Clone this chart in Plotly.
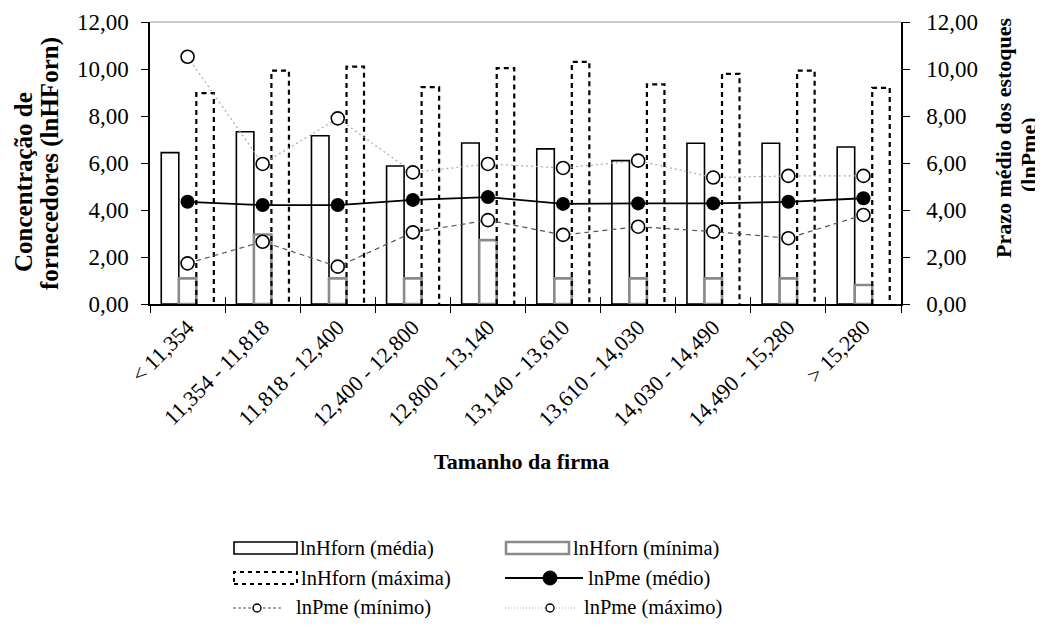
import plotly.graph_objects as go

# ---------------- data ----------------
categories = ["< 11,354", "11,354 - 11,818", "11,818 - 12,400", "12,400 - 12,800",
              "12,800 - 13,140", "13,140 - 13,610", "13,610 - 14,030",
              "14,030 - 14,490", "14,490 - 15,280", "> 15,280"]
lnhforn_media = [6.44, 7.33, 7.16, 5.87, 6.85, 6.60, 6.10, 6.84, 6.84, 6.68]
lnhforn_minima = [1.09, 2.96, 1.09, 1.09, 2.72, 1.09, 1.09, 1.09, 1.09, 0.81]
lnhforn_maxima = [8.97, 9.93, 10.10, 9.23, 10.04, 10.30, 9.35, 9.79, 9.93, 9.20]
lnpme_medio = [4.35, 4.21, 4.21, 4.43, 4.55, 4.26, 4.28, 4.28, 4.35, 4.50]
lnpme_minimo = [1.73, 2.65, 1.59, 3.05, 3.57, 2.94, 3.29, 3.08, 2.80, 3.79]
lnpme_maximo = [10.52, 5.96, 7.90, 5.60, 5.96, 5.79, 6.10, 5.38, 5.45, 5.45]
y_ticks = [0, 2, 4, 6, 8, 10, 12]

# ---------------- style ----------------
FONT = '"Liberation Serif", "Times New Roman", Tinos, serif'
OFF = 8                      # default page (body) margin around the figure
PAGE_W, PAGE_H = 1043, 635
PLOT_L, PLOT_R, PLOT_T, PLOT_B = 150, 901, 22, 304   # plot area in page pixels
W, H = PAGE_W - OFF, PAGE_H - 2 * OFF
L, T = PLOT_L - OFF, PLOT_T - OFF
R = W - (PLOT_R - OFF)
B = H - (PLOT_B - OFF)
BARGAP = 0.3
n = len(categories)
bar_w = (1 - BARGAP) / 3

fig = go.Figure()

fig.add_trace(go.Bar(name="lnHforn (média)", x=categories, y=lnhforn_media,
                     marker=dict(color="white", line=dict(color="black", width=1.6))))
fig.add_trace(go.Bar(name="lnHforn (mínima)", x=categories, y=lnhforn_minima,
                     marker=dict(color="white", line=dict(color="#8a8a8a", width=2.6))))
fig.add_trace(go.Bar(name="lnHforn (máxima)", x=categories, y=lnhforn_maxima,
                     marker=dict(color="rgba(255,255,255,0)", line=dict(width=0))))

# dashed outline of the "máxima" bars (on a linear overlay axis matching category positions)
ox, oy = [], []
for i, v in enumerate(lnhforn_maxima):
    x0 = i + bar_w / 2
    x1 = i + bar_w * 1.5
    ox += [x0, x0, x1, x1, None]
    oy += [0, v, v, 0, None]
fig.add_trace(go.Scatter(x=ox, y=oy, xaxis="x2", yaxis="y", mode="lines",
                         line=dict(color="black", width=2.2, dash="5px,4px"),
                         hoverinfo="skip", showlegend=False))

idx = list(range(n))
fig.add_trace(go.Scatter(name="lnPme (mínimo)", x=idx, y=lnpme_minimo, xaxis="x2", yaxis="y2",
                         mode="lines+markers",
                         line=dict(color="#555555", width=1.2, dash="5px,4px"),
                         marker=dict(size=13, color="white", line=dict(color="black", width=1.6))))
fig.add_trace(go.Scatter(name="lnPme (máximo)", x=idx, y=lnpme_maximo, xaxis="x2", yaxis="y2",
                         mode="lines+markers",
                         line=dict(color="#aaaaaa", width=1.2, dash="2px,3px"),
                         marker=dict(size=13, color="white", line=dict(color="black", width=1.6))))
fig.add_trace(go.Scatter(name="lnPme (médio)", x=idx, y=lnpme_medio, xaxis="x2", yaxis="y2",
                         mode="lines+markers",
                         line=dict(color="black", width=1.8),
                         marker=dict(size=14, color="black")))

ytick_font = dict(family=FONT, size=23, color="black")
xtick_font = dict(family=FONT, size=22, color="black")

fig.update_layout(
    width=W, height=H, autosize=False,
    margin=dict(l=L, r=R, t=T, b=B, pad=0, autoexpand=False),
    paper_bgcolor="white", plot_bgcolor="white",
    separators=",.",
    barmode="group", bargap=BARGAP, bargroupgap=0,
    showlegend=False,
    font=dict(family=FONT, size=19, color="black"),
    xaxis=dict(type="category", range=[-0.5, n - 0.5], tickson="boundaries",
               ticks="outside", ticklen=7, tickwidth=1, tickcolor="black",
               showline=True, linecolor="black", linewidth=1.5, automargin=False,
               tickangle=-45, tickfont=xtick_font, showgrid=False),
    xaxis2=dict(overlaying="x", range=[-0.5, n - 0.5], showticklabels=False,
                tickvals=[i - 0.5 for i in range(n + 1)], ticks="inside", ticklen=7,
                tickcolor="black", tickwidth=1, showgrid=False, zeroline=False,
                showline=False, automargin=False),
    yaxis=dict(range=[0, 12], tickvals=y_ticks, tickformat=".2f", ticks="outside",
               ticklen=7, tickcolor="black", tickwidth=1, showline=True, linecolor="black",
               linewidth=1.5, showgrid=False, zeroline=False, tickfont=ytick_font,
               ticklabelstandoff=8, automargin=False),
    yaxis2=dict(overlaying="y", side="right", range=[0, 12], tickvals=y_ticks,
                tickformat=".2f", ticks="outside", ticklen=7, tickcolor="black", tickwidth=1,
                showline=True, linecolor="black", linewidth=1.5, showgrid=False,
                zeroline=False, tickfont=ytick_font, ticklabelstandoff=12, automargin=False),
    yaxis3=dict(overlaying="y", side="right", range=[0, 12], tickvals=y_ticks,
                ticks="inside", ticklen=7, tickcolor="black", tickwidth=1,
                showticklabels=False, showline=False, showgrid=False, zeroline=False,
                automargin=False),
)

pw, ph = PLOT_R - PLOT_L, PLOT_B - PLOT_T
def px(x):          # page pixel -> paper fraction
    return (x - PLOT_L) / pw
def py(y):
    return (PLOT_B - y) / ph

shapes = [dict(type="line", xref="paper", yref="paper", x0=0, x1=1, y0=1, y1=1,
               line=dict(color="#9a9a9a", width=1))]
annotations = []

def title(text, x, y, size, angle=-90):
    annotations.append(dict(text="<b>%s</b>" % text, xref="paper", yref="paper",
                            x=px(x), y=py(y), textangle=angle, showarrow=False,
                            font=dict(family=FONT, size=size, color="black"),
                            xanchor="center", yanchor="middle"))

title("Concentração de", 24, 182, 25)
title("fornecedores (lnHForn)", 50, 163, 25)
title("Prazo médio dos estoques", 1003, 138, 22)
title("(lnPme)", 1028, 155, 22)
title("Tamanho da firma", 521, 461, 22, angle=0)

# ---------------- custom legend ----------------
leg_font = dict(family=FONT, size=20.5, color="black")
def leg_text(t, x, y):
    annotations.append(dict(text=t, xref="paper", yref="paper", x=px(x), y=py(y),
                            xanchor="left", yanchor="middle", showarrow=False, font=leg_font))
def leg_rect(x0, x1, y, line):
    shapes.append(dict(type="rect", xref="paper", yref="paper", x0=px(x0), x1=px(x1),
                       y0=py(y + 6), y1=py(y - 6), fillcolor="white", line=line))
def leg_line(x0, x1, y, line):
    shapes.append(dict(type="line", xref="paper", yref="paper", x0=px(x0), x1=px(x1),
                       y0=py(y), y1=py(y), line=line))
def leg_circle(cx, y, r, fill, lw):
    shapes.append(dict(type="circle", xref="paper", yref="paper", x0=px(cx - r), x1=px(cx + r),
                       y0=py(y + r), y1=py(y - r), fillcolor=fill,
                       line=dict(color="black", width=lw)))

r1, r2, r3 = 548, 578, 608
leg_rect(234, 297, r1, dict(color="black", width=1.6))
leg_text("lnHforn (média)", 298, r1)
leg_rect(506, 569, r1, dict(color="#8a8a8a", width=2.6))
leg_text("lnHforn (mínima)", 571, r1)
leg_rect(234, 297, r2, dict(color="black", width=2, dash="4px,4px"))
leg_text("lnHforn (máxima)", 299, r2)
leg_line(505, 583, r2, dict(color="black", width=1.8))
leg_circle(550, r2, 7, "black", 1)
leg_text("lnPme (médio)", 586, r2)
leg_line(233, 283, r3, dict(color="#555555", width=1.2, dash="3px,2px"))
leg_circle(257, r3, 4, "white", 1.4)
leg_text("lnPme (mínimo)", 294, r3)
leg_line(505, 577, r3, dict(color="#aaaaaa", width=1.2, dash="1px,2px"))
leg_circle(550, r3, 4, "white", 1.4)
leg_text("lnPme (máximo)", 582, r3)

fig.update_layout(shapes=shapes, annotations=annotations)
fig.write_html("out.html")
